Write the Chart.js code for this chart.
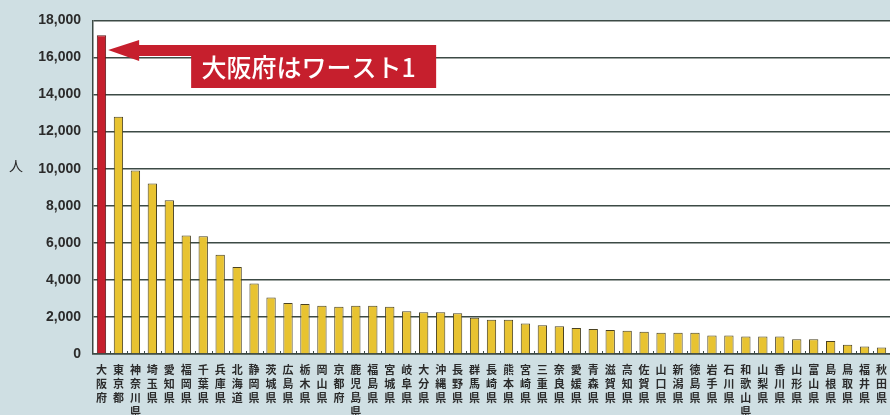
<!DOCTYPE html>
<html lang="ja">
<head>
<meta charset="utf-8">
<title>都道府県別</title>
<script src="https://cdn.jsdelivr.net/npm/chart.js@4.4.1/dist/chart.umd.min.js"></script>
<style>
  body { margin: 0; background: #cfdfe3; }
  #wrap { width: 890px; height: 415px; }
</style>
</head>
<body>
<div id="wrap"><canvas id="myChart" width="890" height="415"></canvas></div>
<script>
// 都道府県（多い順）
const prefectures = [
  '大阪府', '東京都', '神奈川県', '埼玉県', '愛知県', '福岡県', '千葉県', '兵庫県',
  '北海道', '静岡県', '茨城県', '広島県', '栃木県', '岡山県', '京都府', '鹿児島県',
  '福島県', '宮城県', '岐阜県', '大分県', '沖縄県', '長野県', '群馬県', '長崎県',
  '熊本県', '宮崎県', '三重県', '奈良県', '愛媛県', '青森県', '滋賀県', '高知県',
  '佐賀県', '山口県', '新潟県', '徳島県', '岩手県', '石川県', '和歌山県', '山梨県',
  '香川県', '山形県', '富山県', '島根県', '鳥取県', '福井県', '秋田県'
];
const counts = [
  17200, 12800, 9900, 9200, 8300, 6400, 6350, 5350,
  4700, 3800, 3050, 2750, 2700, 2600, 2550, 2600,
  2600, 2550, 2300, 2250, 2250, 2200, 1950, 1850,
  1850, 1650, 1550, 1500, 1400, 1350, 1300, 1250,
  1200, 1150, 1150, 1150, 1000, 1000, 950, 950,
  950, 800, 800, 700, 500, 400, 350
];
const yTicks = [0, 2000, 4000, 6000, 8000, 10000, 12000, 14000, 16000, 18000];
const calloutText = '大阪府はワースト1';
const yTitle = '人';

const RED = '#c61f2d';
const YELLOW = '#e8c331';
const JP = '"Noto Sans CJK JP", "Noto Sans", sans-serif';

// 白い描画エリア、軸の内向き目盛り、「人」、吹き出し矢印
const decor = {
  id: 'decor',
  beforeDraw(chart) {
    const { ctx, chartArea: a } = chart;
    ctx.save();
    ctx.fillStyle = '#ffffff';
    ctx.fillRect(a.left, a.top, a.right - a.left, a.bottom - a.top);
    ctx.restore();
  },
  afterDatasetsDraw(chart) {
    const { ctx, chartArea: a, scales: { x, y } } = chart;
    ctx.save();

    // カテゴリ間の小さな目盛り
    ctx.strokeStyle = '#3c4a45';
    ctx.lineWidth = 1;
    for (let i = 0; i < prefectures.length - 1; i++) {
      const px = Math.round((x.getPixelForValue(i) + x.getPixelForValue(i + 1)) / 2) + 0.5;
      ctx.beginPath();
      ctx.moveTo(px, a.bottom);
      ctx.lineTo(px, a.bottom - 3);
      ctx.stroke();
    }

    // 縦軸の単位
    ctx.fillStyle = '#2b2b2b';
    ctx.font = '14px ' + JP;
    ctx.textAlign = 'center';
    ctx.textBaseline = 'middle';
    ctx.fillText(yTitle, 16, y.getPixelForValue(10000) - 3);

    // 大阪府を指す矢印つきの吹き出し
    const bar = chart.getDatasetMeta(0).data[0];
    const tipX = bar.x + bar.width / 2 + 2;
    const tipY = y.getPixelForValue(16400);
    const headX = tipX + 31;
    const boxL = tipX + 83, boxR = tipX + 328;
    const top = tipY - 5, shaftB = tipY + 6, boxB = tipY + 38;
    ctx.fillStyle = RED;
    ctx.beginPath();
    ctx.moveTo(tipX, tipY);
    ctx.lineTo(headX, tipY - 10);
    ctx.lineTo(headX, top);
    ctx.lineTo(boxR, top);
    ctx.lineTo(boxR, boxB);
    ctx.lineTo(boxL, boxB);
    ctx.lineTo(boxL, shaftB);
    ctx.lineTo(headX, shaftB);
    ctx.lineTo(headX, tipY + 11);
    ctx.closePath();
    ctx.fill();

    ctx.fillStyle = '#ffffff';
    ctx.font = '500 25px ' + JP;
    ctx.textAlign = 'center';
    ctx.fillText(calloutText, (boxL + boxR) / 2 - 5, (top + boxB) / 2 + 1);
    ctx.restore();
  }
};

const ctx = document.getElementById('myChart');

new Chart(ctx, {
  type: 'bar',
  data: {
    labels: prefectures.map(p => p.split('')),
    datasets: [{
      data: counts,
      backgroundColor: c => c.dataIndex === 0 ? RED : YELLOW,
      borderColor: c => c.dataIndex === 0 ? '#5a1a1a' : '#4a4222',
      borderWidth: 1,
      barPercentage: 0.55,
      categoryPercentage: 1
    }]
  },
  options: {
    responsive: false,
    animation: false,
    layout: { padding: { top: 15, right: 0, left: 0, bottom: 0 } },
    plugins: {
      legend: { display: false },
      tooltip: { enabled: false }
    },
    scales: {
      x: {
        afterFit: s => { s.height = 61; },
        grid: { display: false },
        border: { color: '#3c4a45', width: 1.5 },
        ticks: {
          autoSkip: false,
          maxRotation: 0,
          minRotation: 0,
          padding: 1,
          color: '#2b2b2b',
          font: { family: JP, size: 11, weight: 'bold', lineHeight: 1.27 }
        }
      },
      y: {
        min: 0,
        max: 18000,
        afterFit: s => { s.width = 93; },
        afterBuildTicks: s => { s.ticks = yTicks.map(v => ({ value: v })); },
        grid: { color: '#3c4a45', lineWidth: 1.5, drawTicks: false },
        border: { color: '#3c4a45', width: 1.5 },
        ticks: {
          padding: 12,
          color: '#2b2b2b',
          font: { family: '"Liberation Sans", Arial, sans-serif', size: 14, weight: 'bold' },
          callback: v => v.toLocaleString('en-US')
        }
      }
    }
  },
  plugins: [decor]
});
</script>
</body>
</html>
